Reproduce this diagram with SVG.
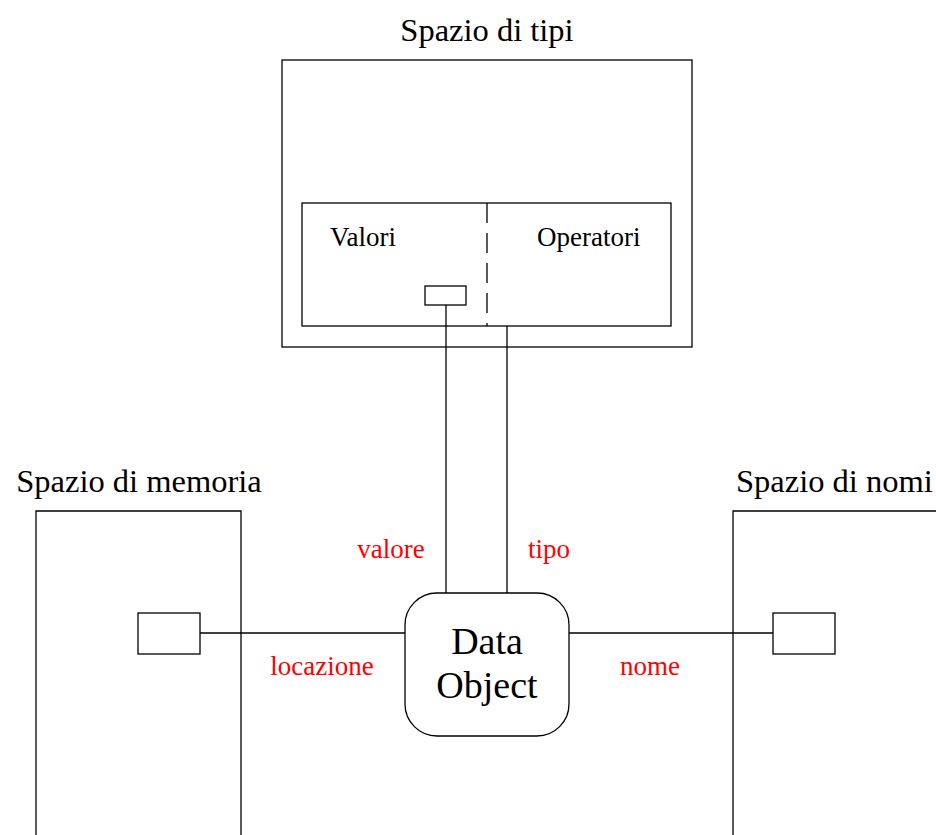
<svg xmlns="http://www.w3.org/2000/svg" width="936" height="835" viewBox="0 0 936 835">
<style>
.b{fill:#fff;stroke:#000;stroke-width:1.3}
.l{fill:none;stroke:#000;stroke-width:1.3}
text{font-family:"Liberation Serif","Times New Roman",serif}
.t{font-size:32.5px}
.s{font-size:27px}
.r{font-size:27px;fill:#ff0000}
</style>
<rect width="936" height="835" fill="#fff"/>
<g id="tipi">
<text class="t" x="487" y="41" text-anchor="middle">Spazio di tipi</text>
<rect class="b" x="282" y="60" width="410" height="287"/>
<rect class="b" x="302" y="203" width="369" height="123"/>
<line class="l" x1="487" y1="203" x2="487" y2="326" stroke-dasharray="20,10"/>
<text class="s" x="330" y="246">Valori</text>
<text class="s" x="537" y="246">Operatori</text>
<rect class="b" x="425" y="286" width="41" height="19"/>
</g>
<g id="memoria">
<text class="t" x="139" y="492" text-anchor="middle">Spazio di memoria</text>
<path class="l" d="M36,835 V511 H241 V835"/>
<rect class="b" x="138" y="613" width="62" height="41"/>
</g>
<g id="nomi">
<text class="t" x="736" y="492">Spazio di nomi</text>
<path class="l" d="M733,835 V511 H936"/>
<rect class="b" x="773" y="613" width="62" height="41"/>
</g>
<g id="connectors">
<line class="l" x1="446" y1="305" x2="446" y2="593"/>
<line class="l" x1="507" y1="326" x2="507" y2="593"/>
<line class="l" x1="200" y1="633" x2="405" y2="633"/>
<line class="l" x1="569" y1="633" x2="773" y2="633"/>
<text class="r" x="391" y="558" text-anchor="middle">valore</text>
<text class="r" x="549" y="558" text-anchor="middle">tipo</text>
<text class="r" x="322" y="675" text-anchor="middle">locazione</text>
<text class="r" x="650" y="675" text-anchor="middle">nome</text>
</g>
<g id="dataobject">
<rect class="b" x="405" y="593" width="164" height="143" rx="32"/>
<text x="487" y="654" text-anchor="middle" font-size="38">Data</text>
<text x="487" y="698" text-anchor="middle" font-size="38">Object</text>
</g>
</svg>
